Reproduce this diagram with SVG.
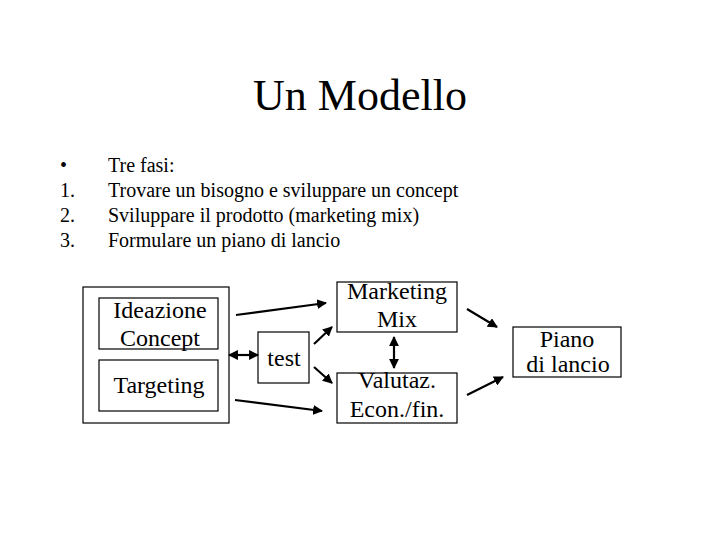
<svg xmlns="http://www.w3.org/2000/svg" width="720" height="540" viewBox="0 0 720 540">
<defs>
<marker id="ah" viewBox="0 0 10 10" refX="9" refY="5" markerWidth="4.5" markerHeight="4.5" orient="auto-start-reverse" markerUnits="strokeWidth">
<path d="M0,0 L10,5 L0,10 z" fill="#000"/>
</marker>
<style>
text{font-family:"Liberation Serif","Times New Roman",serif;fill:#000}
.t{font-family:"Liberation Serif","Times New Roman",serif;font-size:24px;text-anchor:middle}
.l{font-family:"Liberation Serif","Times New Roman",serif;font-size:20px}
rect{fill:#fff;stroke:#000;stroke-width:1.2}
.c line{stroke:#000;stroke-width:2.2;marker-end:url(#ah)}
</style>
</defs>
<rect x="0" y="0" width="720" height="540" style="stroke:none"/>
<text x="360" y="110" font-size="44" text-anchor="middle" font-family="Liberation Serif, Times New Roman, serif">Un Modello</text>
<g id="list">
<text x="60" y="172" class="l">•</text><text x="108" y="172" class="l">Tre fasi:</text>
<text x="60" y="197" class="l">1.</text><text x="108" y="197" class="l">Trovare un bisogno e sviluppare un concept</text>
<text x="60" y="222" class="l">2.</text><text x="108" y="222" class="l">Sviluppare il prodotto (marketing mix)</text>
<text x="60" y="247" class="l">3.</text><text x="108" y="247" class="l">Formulare un piano di lancio</text>
</g>
<g id="outer"><rect x="83" y="287" width="146" height="136"/></g>
<g id="ideazione"><rect x="99" y="298" width="119" height="51"/><text class="t" x="160" y="318">Ideazione</text><text class="t" x="160" y="346">Concept</text></g>
<g id="targeting"><rect x="99" y="360" width="119" height="51"/><text class="t" x="159" y="393">Targeting</text></g>
<g id="test"><rect x="258" y="332" width="51" height="51"/><text class="t" x="284" y="366">test</text></g>
<g id="marketing"><rect x="337" y="282" width="120" height="50"/><text class="t" x="397" y="299">Marketing</text><text class="t" x="397" y="327">Mix</text></g>
<g id="valutaz"><rect x="337" y="373" width="120" height="50"/><text class="t" x="397" y="388">Valutaz.</text><text class="t" x="397" y="417">Econ./fin.</text></g>
<g id="piano"><rect x="513" y="327" width="108" height="50"/><text class="t" x="567" y="347">Piano</text><text class="t" x="568" y="372">di lancio</text></g>
<g id="connectors" class="c">
<line x1="229" y1="355" x2="258" y2="355" style="marker-start:url(#ah)"/>
<line x1="236" y1="315" x2="326" y2="303"/>
<line x1="235" y1="400" x2="322" y2="411"/>
<line x1="314" y1="344" x2="332" y2="327"/>
<line x1="314" y1="367" x2="332" y2="383"/>
<line x1="394" y1="337" x2="394" y2="368" style="marker-start:url(#ah)"/>
<line x1="467" y1="309" x2="497" y2="327"/>
<line x1="467" y1="395" x2="503" y2="377"/>
</g>
</svg>
